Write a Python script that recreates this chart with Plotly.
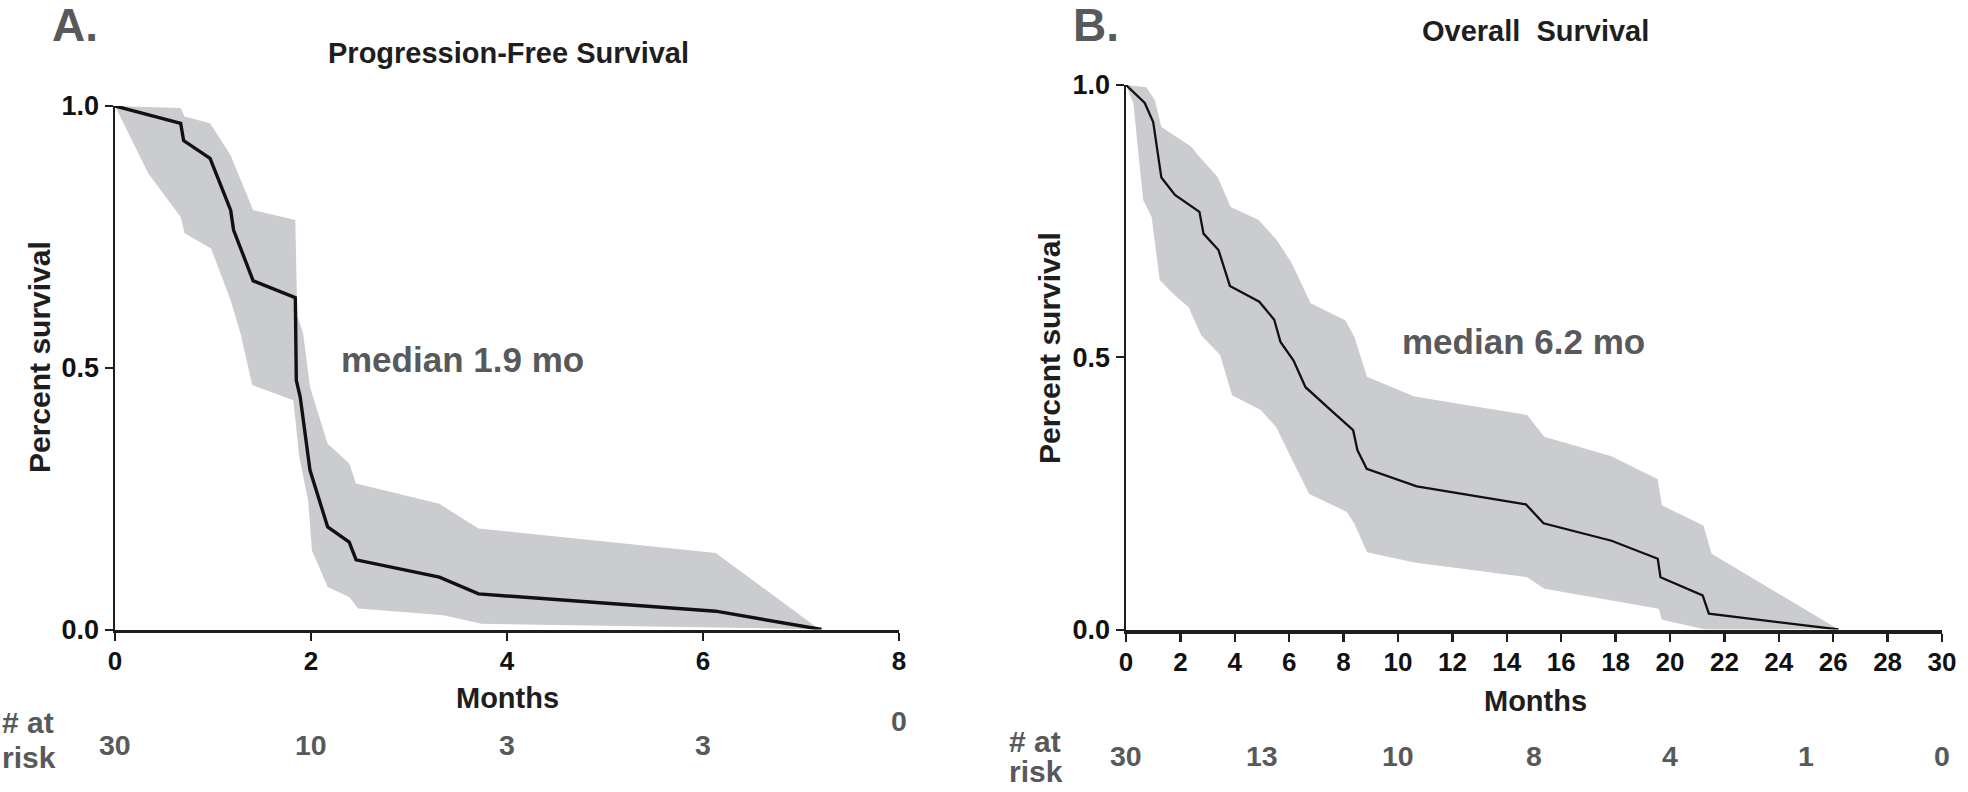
import plotly.graph_objects as go

W, H = 1968, 792

# ---------------- Panel A: Progression-free survival ----------------
pfs_t = [0, 0.67, 0.70, 0.97, 1.18, 1.21, 1.41, 1.84, 1.85, 1.89, 1.99, 2.17, 2.39, 2.46, 3.31, 3.71, 6.13, 7.21]
pfs_s = [1.0, 0.967, 0.934, 0.900, 0.801, 0.763, 0.666, 0.634, 0.476, 0.444, 0.304, 0.196, 0.167, 0.133, 0.100, 0.068, 0.035, 0.0]

pfs_up_t = [0, 0.67, 0.71, 0.97, 1.18, 1.41, 1.84, 1.86, 1.92, 1.99, 2.17, 2.39, 2.46, 3.31, 3.71, 6.13, 7.19]
pfs_up_s = [1.0, 0.996, 0.980, 0.967, 0.906, 0.801, 0.782, 0.600, 0.565, 0.463, 0.355, 0.317, 0.279, 0.240, 0.193, 0.146, 0.0]

pfs_lo_t = [0, 0.34, 0.67, 0.71, 0.98, 1.18, 1.28, 1.40, 1.82, 1.88, 1.97, 2.01, 2.17, 2.39, 2.48, 3.35, 3.74, 6.13, 7.21]
pfs_lo_s = [1.0, 0.871, 0.788, 0.757, 0.728, 0.629, 0.566, 0.467, 0.438, 0.330, 0.247, 0.151, 0.081, 0.062, 0.040, 0.027, 0.011, 0.004, 0.0]

pfs_risk_t = [0, 2, 4, 6]
pfs_risk_n = ["30", "10", "3", "3"]
pfs_risk_end_t = 8
pfs_risk_end_n = "0"
pfs_ticks = [0, 2, 4, 6, 8]

# ---------------- Panel B: Overall survival ----------------
os_t = [0, 0.69, 1.0, 1.3, 1.8, 2.7, 2.85, 3.4, 3.82, 4.9, 5.45, 5.68, 6.16, 6.6, 7.59, 8.35, 8.51, 8.85, 10.69, 14.7, 15.35, 17.85, 19.55, 19.65, 21.2, 21.43, 26.2]
os_s = [1.0, 0.967, 0.932, 0.830, 0.798, 0.767, 0.727, 0.697, 0.631, 0.602, 0.569, 0.528, 0.494, 0.445, 0.400, 0.366, 0.329, 0.295, 0.263, 0.230, 0.195, 0.163, 0.130, 0.096, 0.0625, 0.029, 0.0]

os_up_t = [0, 0.75, 1.06, 1.3, 2.39, 2.7, 3.37, 3.85, 4.88, 5.55, 6.1, 6.79, 8.06, 8.4, 8.86, 10.6, 14.75, 15.38, 17.85, 19.55, 19.7, 21.23, 21.53, 26.2]
os_up_s = [1.0, 0.996, 0.972, 0.923, 0.887, 0.868, 0.831, 0.776, 0.752, 0.715, 0.672, 0.599, 0.568, 0.537, 0.464, 0.428, 0.394, 0.354, 0.318, 0.276, 0.228, 0.191, 0.139, 0.0]

os_lo_t = [0, 0.27, 0.63, 0.94, 1.24, 1.72, 2.3, 2.77, 3.46, 3.9, 4.95, 5.52, 6.21, 6.74, 8.12, 8.4, 8.86, 10.6, 14.75, 15.38, 19.59, 19.7, 21.3]
os_lo_s = [1.0, 0.966, 0.789, 0.758, 0.642, 0.617, 0.592, 0.540, 0.504, 0.430, 0.403, 0.372, 0.301, 0.249, 0.216, 0.194, 0.142, 0.123, 0.096, 0.075, 0.038, 0.018, 0.0]

os_risk_t = [0, 5, 10, 15, 20, 25, 30]
os_risk_n = ["30", "13", "10", "8", "4", "1", "0"]
os_ticks = list(range(0, 31, 2))

y_ticks = [0, 0.5, 1.0]
y_ticktext = ["0.0", "0.5", "1.0"]

FONT = "Liberation Sans, Arial, Helvetica, sans-serif"
BAND = "#cbcccf"
DARK = "#1e1e1e"
GREY = "#58595b"

fig = go.Figure()


def add_panel(t, s, ut, us, lt, ls, xa, ya, lw):
    poly_x = list(ut) + list(reversed(lt))
    poly_y = list(us) + list(reversed(ls))
    fig.add_trace(go.Scatter(x=poly_x, y=poly_y, fill="toself", fillcolor=BAND,
                             line=dict(width=0, color=BAND), mode="lines",
                             hoverinfo="skip", showlegend=False, xaxis=xa, yaxis=ya))
    fig.add_trace(go.Scatter(x=t, y=s, mode="lines", line=dict(color="#111111", width=lw),
                             showlegend=False, xaxis=xa, yaxis=ya))


add_panel(pfs_t, pfs_s, pfs_up_t, pfs_up_s, pfs_lo_t, pfs_lo_s, "x", "y", 3.4)
add_panel(os_t, os_s, os_up_t, os_up_s, os_lo_t, os_lo_s, "x2", "y2", 2.3)


def px_x(p):
    return p / W


def px_y(p):
    return 1 - p / H


axis_common = dict(showgrid=False, zeroline=False, showline=True, ticks="outside",
                   tickcolor=DARK, linecolor=DARK, fixedrange=True, automargin=False)

xtickfont = dict(family=FONT, size=26, color="#111111", weight="bold")
ytickfont = dict(family=FONT, size=27, color="#111111", weight="bold")

fig.update_layout(
    template="none",
    width=W, height=H, margin=dict(l=0, r=0, t=0, b=0, pad=0, autoexpand=False),
    paper_bgcolor="white", plot_bgcolor="white", showlegend=False,
    xaxis=dict(domain=[px_x(115), px_x(899)], range=[0, 8], tickvals=pfs_ticks,
               linewidth=3, tickwidth=2.5, ticklen=8, tickfont=xtickfont,
               anchor="y", ticklabelstandoff=-2, **axis_common),
    yaxis=dict(domain=[px_y(629.5), px_y(106)], range=[0, 1], tickvals=y_ticks, ticktext=y_ticktext,
               linewidth=2.5, tickwidth=2, ticklen=8, tickfont=ytickfont, anchor="x", **axis_common),
    xaxis2=dict(domain=[px_x(1126), px_x(1942)], range=[0, 30], tickvals=os_ticks,
                linewidth=4, tickwidth=2.5, ticklen=8, tickfont=xtickfont,
                anchor="y2", ticklabelstandoff=-2, **axis_common),
    yaxis2=dict(domain=[px_y(629.5), px_y(85)], range=[0, 1], tickvals=y_ticks, ticktext=y_ticktext,
                linewidth=2.5, tickwidth=2, ticklen=8, tickfont=ytickfont, anchor="x2", **axis_common),
)

ann = []


def text(x, y, s, size, color, xref="paper", xanchor="center", angle=0):
    ann.append(dict(x=x, y=y, xref=xref, yref="paper", text=s, showarrow=False,
                    xanchor=xanchor, yanchor="middle", textangle=angle,
                    font=dict(family=FONT, size=size, color=color, weight="bold")))


# panel letters and titles
text(px_x(50), px_y(25), "A.", 46, GREY, xanchor="left")
text(px_x(1071), px_y(25), "B.", 46, GREY, xanchor="left")
text(px_x(508), px_y(52.5), "Progression-Free Survival", 29, DARK)
text(px_x(1535), px_y(31), "Overall\u00a0 Survival", 29, DARK)

# median annotations
text(px_x(462.5), px_y(359.5), "median 1.9 mo", 35, GREY)
text(px_x(1523), px_y(341.5), "median 6.2 mo", 35, GREY)

# axis titles
text(px_x(507), px_y(697.5), "Months", 29, DARK)
text(px_x(1535), px_y(701), "Months", 29, DARK)
text(px_x(39.5), px_y(357.5), "Percent survival", 30, DARK, angle=-90)
text(px_x(1049.5), px_y(348.5), "Percent survival", 30, DARK, angle=-90)

# number at risk
text(px_x(0), px_y(722), "# at", 30, GREY, xanchor="left")
text(px_x(0), px_y(757), "risk", 30, GREY, xanchor="left")
text(px_x(1007), px_y(741), "# at", 30, GREY, xanchor="left")
text(px_x(1007), px_y(771), "risk", 30, GREY, xanchor="left")

for t, n in zip(pfs_risk_t, pfs_risk_n):
    text(t, px_y(745), n, 28.5, GREY, xref="x")
text(pfs_risk_end_t, px_y(721), pfs_risk_end_n, 28.5, GREY, xref="x")
for t, n in zip(os_risk_t, os_risk_n):
    text(t, px_y(756), n, 28.5, GREY, xref="x2")

fig.update_layout(annotations=ann)
fig.write_html(
    "out.html",
    config={"displayModeBar": False, "staticPlot": True},
    post_script=(
        "document.documentElement.style.margin='0';"
        "document.documentElement.style.overflow='hidden';"
        "document.body.style.margin='0';"
        "document.body.style.overflow='hidden';"
    ),
)
